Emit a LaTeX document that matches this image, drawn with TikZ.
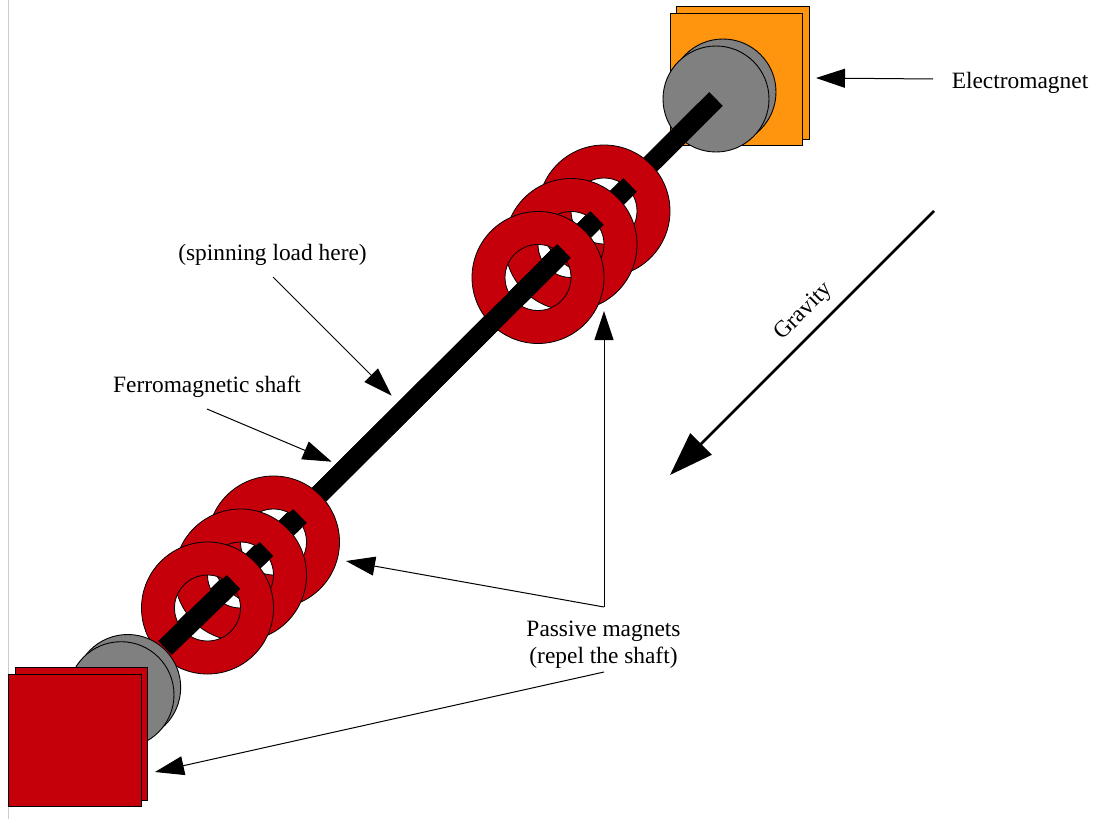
\documentclass[tikz,border=0pt]{standalone}
\usepackage{fontspec}
\setmainfont{Liberation Serif}
\usetikzlibrary{arrows.meta}
\definecolor{magred}{HTML}{C5000B}
\definecolor{magorange}{HTML}{FF950E}
\definecolor{discgray}{HTML}{808080}
\tikzset{
  x=1pt,y=-1pt,
  plate/.style={draw=black,line width=0.9pt},
  disc/.style={draw=black,line width=0.9pt,fill=discgray},
  ring/.style={draw=black,line width=0.8pt,fill=magred,even odd rule},
  shaft/.style={draw=black,line width=19.4pt},
  lbl/.style={font=\fontsize{23.4}{26.6}\selectfont,inner sep=0pt,align=center},
  pointer/.style={draw=black,line width=1pt,-{Triangle[length=29pt,width=19pt]}},
  heavy/.style={draw=black,line width=2.8pt,-{Triangle[length=44pt,width=30pt]}}
}
\begin{document}
\begin{tikzpicture}
\useasboundingbox (0,0) rectangle (1098,819);
\fill[white] (0,0) rectangle (1098,819);
\draw[black!20,line width=1pt] (8.5,0) -- (8.5,819);
% upper electromagnet
\path[plate,fill=magorange] (676,6.5) rectangle (809,139);
\path[plate,fill=magorange] (670,13) rectangle (802.5,145.5);
\path[disc] (723,92) circle (53);
\path[disc] (716,99) circle (53);
% shaft and rings, interleaved
\coordinate (sA) at (716,99);
\coordinate (sB) at (630,185);
\coordinate (sC) at (597,218);
\coordinate (sD) at (564,251);
\coordinate (sE) at (300,516);
\coordinate (sF) at (266.5,549);
\coordinate (sG) at (233.5,582);
\coordinate (sH) at (165,648);
\path[shaft] (sA) -- (sH);
\path[ring] (604,211) circle (66) (604,211) circle (33);
\path[shaft] (sB) -- (sH);
\path[ring] (571,244.5) circle (66) (571,244.5) circle (33);
\path[shaft] (sC) -- (sH);
\path[ring] (538,277.5) circle (66) (538,277.5) circle (33);
\path[shaft] (sD) -- (sH);
\path[ring] (273.5,542) circle (66) (273.5,542) circle (33);
\path[shaft] (sE) -- (sH);
\path[ring] (240.5,575) circle (66) (240.5,575) circle (33);
\path[shaft] (sF) -- (sH);
\path[ring] (207.5,608) circle (66) (207.5,608) circle (33);
\path[shaft] (sG) -- (sH);
% lower magnet
\path[disc] (127.7,687.5) circle (53);
\path[disc] (121,694.7) circle (53);
\path[plate,fill=magred] (15,667.5) rectangle (147.5,800);
\path[plate,fill=magred] (8.5,674) rectangle (141,806.5);
% labels
\node[lbl] (em) at (1020,83) {Electromagnet};
\node[lbl] (spin) at (272.5,255) {(spinning load here)};
\node[lbl] (ferro) at (207,387) {Ferromagnetic shaft};
\node[lbl] (pass) at (603.5,645) {Passive magnets\\(repel the shaft)};
\node[lbl,rotate=45] (grav) at (804,312) {Gravity};
% connector ends
\coordinate (emS) at (933,79);
\coordinate (emT) at (816,78);
\coordinate (gS) at (934,211);
\coordinate (gT) at (670,475);
\coordinate (spS) at (273,277);
\coordinate (spT) at (391.7,395.7);
\coordinate (feS) at (207,409);
\coordinate (feT) at (331.7,461.7);
\coordinate (paS) at (604,607);
\coordinate (paA) at (346,561);
\coordinate (paB) at (604,311);
\coordinate (paD) at (604,672);
\coordinate (paC) at (155,772);
\draw[pointer] (emS) -- (emT);
\draw[heavy] (gS) -- (gT);
\draw[pointer] (spS) -- (spT);
\draw[pointer] (feS) -- (feT);
\draw[pointer] (paS) -- (paA);
\draw[pointer] (paS) -- (paB);
\draw[pointer] (paD) -- (paC);
\end{tikzpicture}
\end{document}
